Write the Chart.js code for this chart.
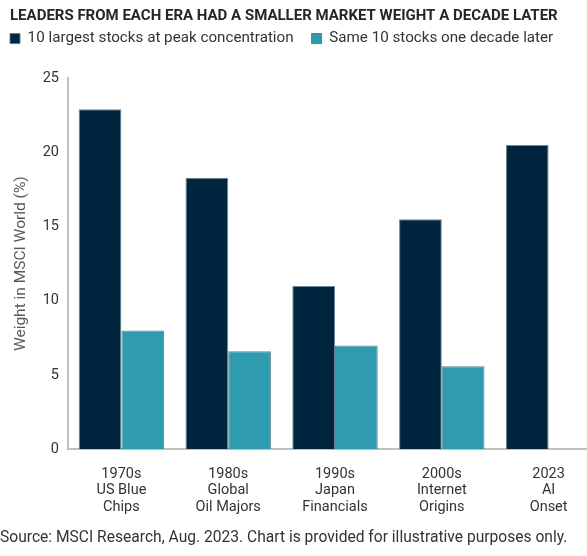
<!DOCTYPE html>
<html>
<head>
<meta charset="utf-8">
<script src="https://cdn.jsdelivr.net/npm/chart.js@4"></script>
<style>
  html, body { margin: 0; padding: 0; background: #fff; overflow: hidden; }
  #wrap { width: 602px; height: 556px; }
</style>
</head>
<body>
<div id="wrap"><canvas id="eraChart" width="602" height="556"></canvas></div>
<script>
const categories = [
    ["1970s", "US Blue", "Chips"],
    ["1980s", "Global", "Oil Majors"],
    ["1990s", "Japan", "Financials"],
    ["2000s", "Internet", "Origins"],
    ["2023", "AI", "Onset"]
];
const peakWeights = [22.9, 18.3, 11.0, 15.5, 20.5];
const decadeLaterWeights = [8.0, 6.6, 7.0, 5.6, null];
const yTicks = [0, 5, 10, 15, 20, 25];

const DARK = '#00253e', TEAL = '#2e9baf', AXIS = '#c0c0c0', TXT = '#333333';
const FONT = 'Roboto, "Liberation Sans", sans-serif';

// nudge the title / legend / source into place after Chart.js lays out the boxes
const placeBoxes = {
    id: 'placeBoxes',
    afterLayout(chart) {
        const t = chart.titleBlock, s = chart.$subtitle, l = chart.legend;
        if (t) { t.left += 10; }
        if (s) { s.left += 10; }
        if (l) { l.left -= 8; l.top -= 22; l.bottom -= 22; }
    }
};

const ctx = document.getElementById('eraChart').getContext('2d');
const myChart = new Chart(ctx, {
    type: 'bar',
    data: {
        labels: categories,
        datasets: [
            { label: '10 largest stocks at peak concentration', data: peakWeights, backgroundColor: DARK, borderColor: 'rgba(95,120,138,0.9)', borderWidth: 1 },
            { label: 'Same 10 stocks one decade later', data: decadeLaterWeights, backgroundColor: TEAL, borderColor: 'rgba(70,120,140,0.9)', borderWidth: 1 }
        ]
    },
    options: {
        responsive: false,
        devicePixelRatio: 1,
        animation: false,
        layout: { padding: { left: 0, right: 0, top: 0, bottom: 0 } },
        datasets: { bar: { categoryPercentage: 0.8, barPercentage: 1.0 } },
        plugins: {
            title: {
                display: true,
                text: 'LEADERS FROM EACH ERA HAD A SMALLER MARKET WEIGHT A DECADE LATER',
                align: 'start',
                color: '#262626',
                font: { family: FONT, size: 15, weight: 'bold', lineHeight: 1.2 },
                padding: { top: 7, bottom: 10 }
            },
            subtitle: {
                display: true,
                position: 'bottom',
                align: 'start',
                text: 'Source: MSCI Research, Aug. 2023. Chart is provided for illustrative purposes only.',
                color: TXT,
                font: { family: FONT, size: 15.6, lineHeight: 1.2 },
                padding: { top: 0, bottom: 9 }
            },
            legend: {
                display: true,
                align: 'start',
                labels: {
                    boxWidth: 10, boxHeight: 10, padding: 18,
                    color: TXT,
                    font: { family: FONT, size: 15.2 }
                }
            },
            tooltip: { enabled: false }
        },
        scales: {
            x: {
                afterFit(scale) { scale.height = 79; },
                grid: { display: false, drawTicks: false },
                border: { display: true, color: AXIS, width: 2 },
                ticks: {
                    color: TXT, padding: 17, maxRotation: 0, autoSkip: false,
                    font: { family: FONT, size: 14.5, lineHeight: 1.12 }
                }
            },
            y: {
                min: 0, max: 25,
                afterFit(scale) { scale.width = 68; },
                afterBuildTicks(scale) { scale.ticks = yTicks.map(v => ({ value: v })); },
                grid: { display: false, drawTicks: false },
                border: { display: true, color: AXIS, width: 2 },
                ticks: { color: TXT, padding: 9, font: { family: FONT, size: 14.5 } },
                title: {
                    display: true,
                    text: 'Weight in MSCI World (%)',
                    color: '#595959',
                    font: { family: FONT, size: 15.5 },
                    padding: { top: 12, bottom: 0 }
                }
            }
        }
    },
    plugins: [placeBoxes]
});
</script>
</body>
</html>
